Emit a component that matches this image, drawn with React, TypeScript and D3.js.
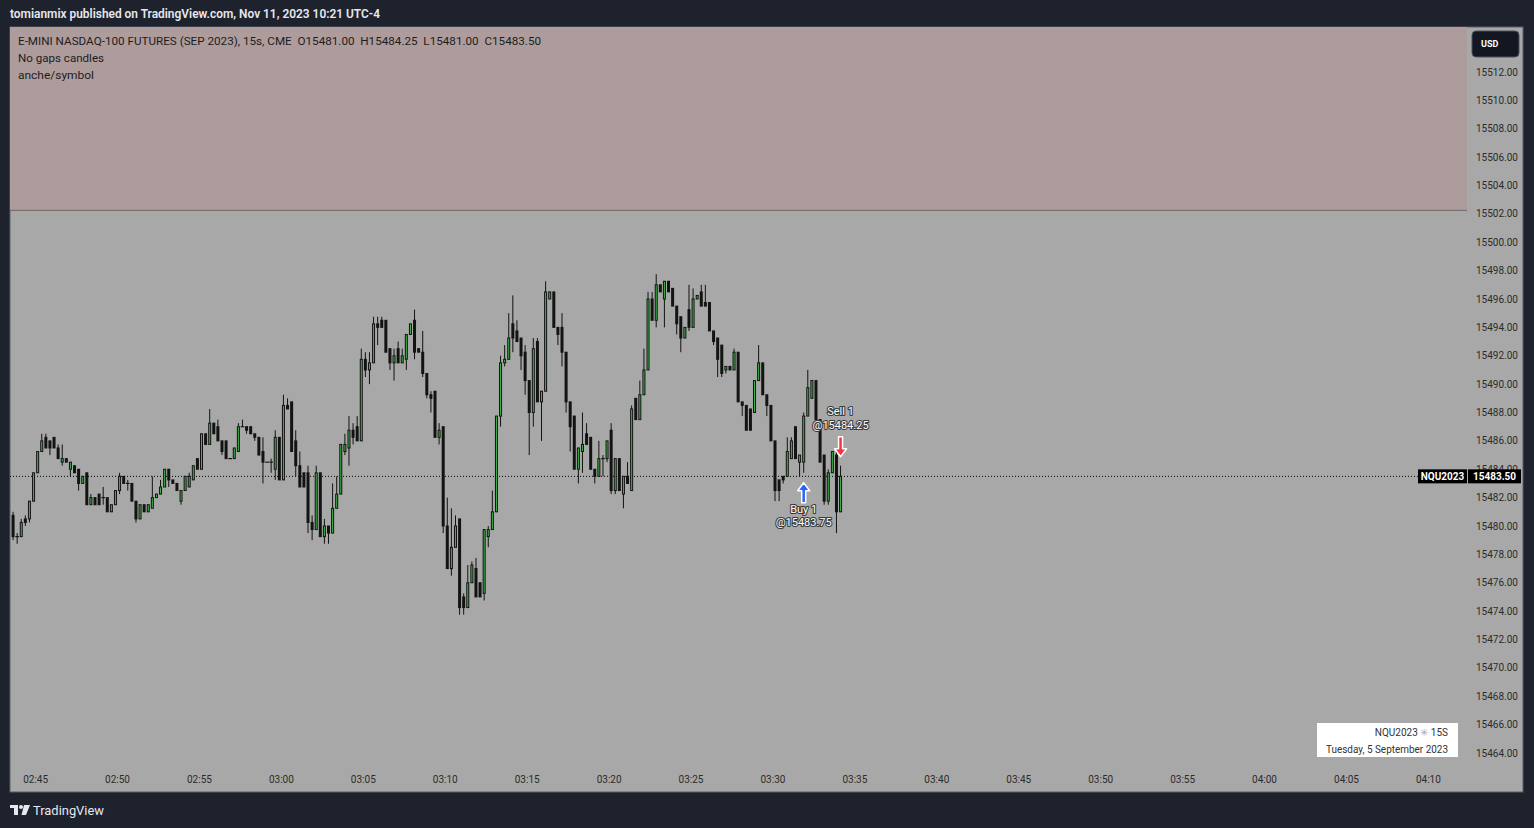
import React from 'react';
import * as d3 from 'd3';

const START = new Date(2023, 8, 5, 2, 43, 37, 500);
const STEP_SEC = 15;

const opens = [
15480.75,15479.25,15479.25,15480.5,15480.5,15481.75,15483.75,15485.25,15486.25,15486.0,
15486.25,15485.5,15484.5,15484.75,15484.0,15484.25,15484.0,15483.0,15483.75,15481.5,
15482.0,15482.25,15482.0,15482.0,15481.0,15481.5,15482.5,15483.5,15483.0,15483.0,
15481.75,15480.5,15481.5,15481.0,15481.25,15482.0,15482.25,15482.75,15484.0,15483.25,
15483.0,15481.75,15482.5,15482.75,15483.25,15484.75,15484.0,15486.5,15485.75,15487.25,
15487.0,15486.0,15486.0,15484.75,15484.75,15485.25,15487.0,15487.0,15487.0,15486.5,
15486.25,15485.25,15484.5,15484.5,15484.0,15486.25,15483.25,15488.5,15488.75,15486.0,
15484.25,15483.75,15483.75,15480.25,15479.75,15483.75,15479.25,15480.0,15479.5,15481.25,
15482.25,15485.25,15485.5,15486.75,15487.0,15486.0,15491.75,15491.0,15491.5,15494.25,
15494.5,15494.5,15492.5,15491.5,15492.5,15491.5,15491.75,15493.5,15494.5,15492.5,
15492.25,15490.75,15489.25,15489.5,15486.25,15487.0,15480.0,15477.0,15478.5,15480.5,
15475.0,15474.25,15476.0,15477.0,15476.0,15475.25,15479.25,15479.75,15481.0,15487.75,
15491.5,15491.75,15494.25,15493.75,15493.25,15492.25,15490.25,15488.0,15493.0,15488.75,
15489.5,15496.0,15496.5,15494.0,15494.0,15492.25,15488.75,15487.75,15484.0,15485.25,
15486.5,15486.25,15484.0,15483.5,15484.75,15484.75,15486.75,15482.5,15484.75,15482.25,
15483.5,15482.5,15489.0,15487.5,15489.25,15491.0,15496.0,15494.5,15497.0,15496.0,
15497.25,15496.75,15495.5,15494.75,15493.25,15495.25,15494.0,15496.0,15496.5,15495.75,
15495.75,15493.75,15493.25,15492.75,15491.0,15491.25,15491.0,15492.25,15488.75,15488.5,
15488.25,15488.0,15490.25,15491.5,15489.25,15488.5,15486.0,15483.25,15483.5,15483.5,
15484.75,15487.0,15484.5,15484.5,15487.75,15489.0,15490.25,15487.5,15485.0,15481.75,
15483.75,15485.0,15481.0
];
const highs = [
15481.0,15479.5,15480.5,15480.75,15481.75,15483.75,15485.25,15486.5,15486.5,15486.0,
15486.25,15485.75,15485.75,15484.75,15484.5,15484.25,15484.0,15483.5,15483.75,15482.25,
15482.0,15482.25,15482.75,15482.0,15481.5,15482.5,15483.75,15483.5,15483.25,15483.0,
15481.75,15481.5,15481.5,15481.5,15483.5,15482.25,15483.25,15484.0,15484.0,15483.25,
15483.0,15482.5,15483.5,15483.75,15484.25,15484.75,15486.5,15486.5,15488.25,15487.25,
15487.5,15486.0,15486.0,15484.75,15485.5,15487.25,15487.5,15487.0,15487.0,15486.5,
15486.25,15486.25,15484.5,15484.75,15486.75,15486.25,15489.25,15489.0,15488.75,15486.75,
15485.25,15483.75,15484.25,15480.75,15484.25,15483.75,15480.5,15480.0,15483.0,15483.5,
15485.75,15486.5,15487.75,15487.25,15487.75,15492.5,15492.25,15492.25,15494.75,15494.75,
15494.75,15494.5,15492.5,15492.5,15493.0,15492.5,15493.5,15494.25,15495.25,15492.5,
15493.75,15490.75,15489.5,15489.5,15487.25,15487.0,15482.0,15481.25,15480.75,15480.5,
15475.25,15477.25,15477.5,15477.75,15476.0,15479.75,15480.0,15482.5,15487.75,15492.0,
15492.75,15495.0,15496.25,15494.5,15493.25,15492.75,15490.25,15493.25,15493.25,15489.5,
15497.25,15496.5,15496.5,15494.0,15495.0,15492.25,15488.75,15487.75,15485.5,15488.0,
15487.25,15486.25,15484.0,15486.0,15485.0,15486.0,15487.25,15484.75,15484.75,15483.5,
15484.5,15488.5,15489.0,15490.25,15492.5,15496.5,15496.5,15497.75,15497.0,15497.25,
15497.25,15496.75,15495.5,15494.75,15494.0,15497.0,15496.75,15496.25,15497.0,15497.0,
15495.75,15493.75,15493.25,15492.75,15491.25,15491.25,15492.5,15492.25,15488.75,15488.5,
15488.25,15490.25,15492.75,15491.5,15489.25,15488.5,15486.0,15483.25,15483.5,15486.25,
15486.25,15487.0,15485.0,15488.0,15491.0,15490.25,15490.25,15487.5,15485.0,15484.0,
15485.25,15485.25,15484.25
];
const lows = [
15479.0,15478.75,15479.25,15480.0,15480.25,15481.75,15483.75,15485.25,15485.5,15485.0,
15485.5,15484.75,15484.25,15484.5,15483.5,15483.75,15482.5,15483.0,15481.5,15481.5,
15481.5,15481.5,15481.5,15481.0,15481.0,15481.5,15482.25,15483.0,15482.5,15481.75,
15480.25,15480.5,15481.0,15481.0,15481.25,15482.0,15482.25,15482.75,15482.75,15483.0,
15482.5,15481.5,15482.5,15482.75,15483.25,15484.0,15484.0,15485.75,15485.75,15486.5,
15486.0,15485.0,15484.75,15484.75,15484.75,15485.25,15487.0,15486.5,15486.5,15486.0,
15485.0,15483.0,15484.5,15483.75,15483.25,15483.25,15483.25,15488.25,15485.25,15483.5,
15482.75,15482.75,15479.5,15479.0,15479.75,15479.25,15478.75,15478.75,15479.5,15481.25,
15482.25,15485.0,15484.25,15485.75,15486.0,15486.0,15490.5,15490.0,15491.5,15492.75,
15494.0,15492.25,15491.0,15490.25,15491.5,15491.5,15491.0,15493.5,15491.75,15492.25,
15490.5,15489.0,15488.0,15486.25,15485.75,15479.5,15477.0,15476.5,15478.5,15473.75,
15473.75,15474.25,15476.0,15475.0,15475.0,15474.75,15478.5,15479.75,15481.0,15487.0,
15491.25,15491.75,15492.25,15493.0,15491.0,15489.25,15485.0,15487.0,15488.75,15486.0,
15489.5,15496.0,15494.0,15492.75,15491.25,15488.0,15485.25,15484.0,15483.0,15483.75,
15485.75,15484.0,15483.0,15483.5,15483.5,15484.5,15482.25,15482.25,15482.5,15481.25,
15483.0,15482.5,15487.5,15487.5,15489.25,15491.0,15494.5,15494.0,15496.5,15494.0,
15496.5,15495.5,15493.5,15492.25,15493.25,15493.75,15494.0,15496.0,15495.5,15495.5,
15493.75,15492.75,15490.5,15490.5,15490.75,15491.0,15491.0,15488.75,15487.75,15486.75,
15486.75,15488.0,15490.25,15489.25,15487.75,15486.0,15481.75,15481.75,15483.0,15483.5,
15484.75,15484.75,15483.5,15483.75,15487.75,15489.0,15487.5,15484.5,15481.5,15481.5,
15483.75,15479.5,15481.0
];
const closes = [
15479.25,15479.25,15480.25,15480.25,15481.75,15483.75,15485.25,15486.0,15485.5,15485.5,
15485.5,15484.75,15484.75,15484.5,15484.5,15483.75,15483.0,15483.5,15481.5,15482.0,
15481.5,15481.5,15482.0,15481.0,15481.5,15482.5,15483.5,15483.0,15483.0,15481.75,
15480.5,15481.5,15481.0,15481.5,15482.0,15482.25,15482.75,15484.0,15483.25,15483.0,
15482.5,15482.5,15483.5,15483.5,15484.25,15484.0,15486.5,15485.75,15487.25,15486.5,
15486.0,15485.25,15484.75,15484.75,15485.5,15487.0,15487.0,15486.75,15486.5,15486.25,
15485.0,15484.5,15484.5,15484.5,15486.25,15483.25,15488.5,15488.25,15485.25,15484.25,
15482.75,15482.75,15480.25,15479.75,15483.75,15479.25,15480.0,15479.5,15481.25,15482.25,
15485.75,15485.75,15486.75,15486.25,15486.0,15491.75,15491.0,15491.5,15494.25,15494.0,
15494.0,15492.25,15491.5,15492.0,15491.5,15492.0,15493.5,15494.25,15492.25,15492.25,
15490.75,15489.25,15489.0,15486.25,15486.75,15480.0,15477.0,15478.5,15480.0,15474.25,
15474.25,15476.0,15477.25,15475.0,15475.0,15479.75,15479.75,15481.0,15487.75,15491.5,
15491.75,15493.25,15493.25,15493.0,15492.0,15490.25,15488.0,15492.5,15488.75,15489.5,
15496.5,15496.5,15494.0,15493.5,15492.25,15488.75,15487.0,15484.0,15485.5,15485.75,
15485.75,15484.0,15483.5,15484.75,15484.75,15486.0,15482.5,15484.75,15482.5,15483.5,
15483.0,15488.25,15487.5,15489.25,15491.0,15496.0,15494.5,15497.0,15496.5,15497.25,
15496.5,15495.5,15494.25,15493.25,15494.0,15494.0,15496.0,15496.25,15495.5,15495.5,
15493.75,15493.0,15491.75,15490.75,15491.25,15491.0,15492.25,15488.75,15488.5,15486.75,
15486.75,15490.25,15491.5,15489.25,15488.5,15486.0,15482.5,15482.5,15483.25,15485.25,
15486.0,15484.75,15485.0,15487.75,15489.75,15490.25,15487.5,15484.5,15481.75,15483.75,
15485.25,15481.0,15483.5
];

const priceTicks = d3.range(15464, 15513, 2);
const timeTickLabels = ['02:45','02:50','02:55','03:00','03:05','03:10','03:15','03:20','03:25','03:30','03:35','03:40','03:45','03:50','03:55','04:00','04:05','04:10'];
const lastPrice = 15483.5;
const bandBottom = 15502.25;
const buyPrice = 15483.75;
const sellPrice = 15484.25;
const buyIndex = 193;
const sellIndex = 202;

const FONT = 'Roboto, "Liberation Sans", sans-serif';

export default function App() {
  const W = 1534, H = 828;
  const plot = { left: 10, right: 1523, top: 27, bottom: 792, axisX: 1467 };
  const parseHM = (s: string) => {
    const [h, m] = s.split(':').map(Number);
    return new Date(2023, 8, 5, h, m, 0);
  };
  const x = d3.scaleTime()
    .domain([parseHM('02:45'), parseHM('04:10')])
    .range([35.6, 1428.4]);
  const y = d3.scaleLinear().domain([15464, 15512]).range([753, 72]);
  const fmtTime = d3.timeFormat('%H:%M');

  const candles = closes.map((c, i) => {
    const o = opens[i];
    const hi = Math.max(highs[i], o, c);
    const lo = Math.min(lows[i], o, c);
    const t = new Date(START.getTime() + i * STEP_SEC * 1000);
    return { o, h: hi, l: lo, c, t };
  });

  const green = '#41b649';
  const dark = '#131313';

  const buyX = x(candles[buyIndex].t);
  const sellX = x(candles[sellIndex].t);
  const buyTip = y(buyPrice) + 10;
  const sellTip = y(sellPrice) - 9;

  const upArrow = (cx: number, tip: number) =>
    `M${cx},${tip} L${cx + 6},${tip + 8} L${cx + 2},${tip + 8} L${cx + 2},${tip + 20} L${cx - 2},${tip + 20} L${cx - 2},${tip + 8} L${cx - 6},${tip + 8} Z`;
  const downArrow = (cx: number, tip: number) =>
    `M${cx},${tip} L${cx + 6},${tip - 8} L${cx + 2},${tip - 8} L${cx + 2},${tip - 20} L${cx - 2},${tip - 20} L${cx - 2},${tip - 8} L${cx - 6},${tip - 8} Z`;

  const haloText = (tx: number, ty: number, s: string) => (
    <text x={tx} y={ty} textAnchor="middle" dominantBaseline="central" fontSize={11}
      fontFamily={FONT} fill="#ffffff" stroke="#3a3a3a" strokeWidth={2.2}
      style={{ paintOrder: 'stroke' }} strokeLinejoin="round">{s}</text>
  );

  return (
    <svg width={W} height={H} style={{ position: 'absolute', left: 0, top: 0, display: 'block' }}>
      <rect x={0} y={0} width={W} height={H} fill="#1e222d" />
      <text x={10} y={14} dominantBaseline="central" fontSize={12} fontWeight={600} fontFamily={FONT}
        fill="#e6e8ee" textLength={370} lengthAdjust="spacingAndGlyphs">
        tomianmix published on TradingView.com, Nov 11, 2023 10:21 UTC-4
      </text>

      {/* chart area */}
      <rect x={plot.left} y={plot.top} width={plot.right - plot.left} height={plot.bottom - plot.top}
        fill="#a8a8a8" stroke="#5a5e69" strokeWidth={1} />
      <rect x={plot.left} y={plot.top} width={plot.axisX - plot.left} height={y(bandBottom) - plot.top}
        fill="#ae9c9c" />
      <line x1={plot.left} x2={plot.axisX} y1={y(bandBottom)} y2={y(bandBottom)} stroke="#6e6464" strokeWidth={1} />

      {/* legend */}
      <text x={18} y={41} dominantBaseline="central" fontSize={11.5} fontFamily={FONT} fill="#1c1c1c"
        textLength={523} lengthAdjust="spacingAndGlyphs" style={{ whiteSpace: 'pre' }}>
        {`E-MINI NASDAQ-100 FUTURES (SEP 2023), 15s, CME  O${opens[opens.length - 1].toFixed(2)}  H${highs[highs.length - 1].toFixed(2)}  L${lows[lows.length - 1].toFixed(2)}  C${closes[closes.length - 1].toFixed(2)}`}
      </text>
      <text x={18} y={58} dominantBaseline="central" fontSize={11.5} fontFamily={FONT} fill="#1c1c1c"
        textLength={86} lengthAdjust="spacingAndGlyphs">No gaps candles</text>
      <text x={18} y={75} dominantBaseline="central" fontSize={11.5} fontFamily={FONT} fill="#1c1c1c"
        textLength={76} lengthAdjust="spacingAndGlyphs">anche/symbol</text>

      {/* price axis labels */}
      {priceTicks.map(p => (
        <text key={p} x={1476} y={y(p)} dominantBaseline="central" fontSize={10} fontFamily={FONT}
          fill="#2b2b2b">{p.toFixed(2)}</text>
      ))}

      {/* time axis labels */}
      {timeTickLabels.map(s => (
        <text key={s} x={x(parseHM(s))} y={779} textAnchor="middle" dominantBaseline="central" fontSize={10}
          fontFamily={FONT} fill="#2b2b2b">{fmtTime(parseHM(s))}</text>
      ))}

      {/* last price dotted line */}
      <line x1={plot.left} x2={1418} y1={y(lastPrice)} y2={y(lastPrice)} stroke="#000" strokeWidth={1}
        strokeDasharray="1,2" />

      {/* candles */}
      {candles.map((d, i) => {
        const cx = x(d.t);
        const up = d.c > d.o;
        const doji = d.c === d.o;
        const top = y(Math.max(d.o, d.c));
        const bot = y(Math.min(d.o, d.c));
        return (
          <g key={i}>
            <line x1={cx} x2={cx} y1={y(d.h)} y2={y(d.l)} stroke={dark} strokeWidth={1} />
            {doji ? (
              <line x1={cx - 1.8} x2={cx + 1.8} y1={top} y2={top} stroke={dark} strokeWidth={1.2} />
            ) : up ? (
              <rect x={cx - 1} y={top} width={2} height={Math.max(1, bot - top)} fill={green} stroke={dark}
                strokeWidth={1} />
            ) : (
              <rect x={cx - 1.5} y={top - 0.5} width={3} height={Math.max(1, bot - top + 1)} fill={dark} />
            )}
          </g>
        );
      })}

      {/* trade markers */}
      <path d={upArrow(buyX, buyTip)} fill="#2962ff" stroke="#ffffff" strokeWidth={1.5} strokeLinejoin="round" />
      {haloText(buyX, buyTip + 27, 'Buy 1')}
      {haloText(buyX, buyTip + 40, `@${buyPrice.toFixed(2)}`)}
      <path d={downArrow(sellX, sellTip)} fill="#f23645" stroke="#ffffff" strokeWidth={1.5} strokeLinejoin="round" />
      {haloText(sellX, sellTip - 45, 'Sell 1')}
      {haloText(sellX, sellTip - 31, `@${sellPrice.toFixed(2)}`)}

      {/* last price labels */}
      <rect x={1418} y={y(lastPrice) - 7} width={49} height={14} fill="#000" />
      <text x={1442.5} y={y(lastPrice)} textAnchor="middle" dominantBaseline="central" fontSize={10}
        fontWeight={700} fontFamily={FONT} fill="#fff">NQU2023</text>
      <rect x={1468} y={y(lastPrice) - 7} width={53} height={14} fill="#000" />
      <text x={1494.5} y={y(lastPrice)} textAnchor="middle" dominantBaseline="central" fontSize={10}
        fontWeight={700} fontFamily={FONT} fill="#fff">{lastPrice.toFixed(2)}</text>

      {/* USD button */}
      <rect x={1472} y={31} width={47} height={26} rx={4} fill="#131722" stroke="#50535e" strokeWidth={1} />
      <text x={1481} y={44} dominantBaseline="central" fontSize={9} fontWeight={700} fontFamily={FONT}
        fill="#ffffff">USD</text>

      {/* info box */}
      <rect x={1317} y={723} width={141} height={34} fill="#ffffff" />
      <text x={1448} y={732} textAnchor="end" dominantBaseline="central" fontSize={10} fontFamily={FONT} fill="#333">
        NQU2023 <tspan fill="#aaaaaa">✳</tspan> 15S
      </text>
      <text x={1448} y={749} textAnchor="end" dominantBaseline="central" fontSize={10} fontFamily={FONT} fill="#333"
        textLength={122} lengthAdjust="spacingAndGlyphs">
        Tuesday, 5 September 2023
      </text>

      {/* footer logo */}
      <g fill="#e6e8ee">
        <rect x={10} y={805} width={8} height={3} />
        <rect x={14} y={805} width={4} height={10} />
        <circle cx={21} cy={807} r={2} />
        <path d="M24,805 L30,805 L26,815 L21.5,815 Z" />
      </g>
      <text x={33} y={810} dominantBaseline="central" fontSize={13} fontFamily={FONT} fill="#e6e8ee"
        textLength={71} lengthAdjust="spacingAndGlyphs">TradingView</text>
    </svg>
  );
}
